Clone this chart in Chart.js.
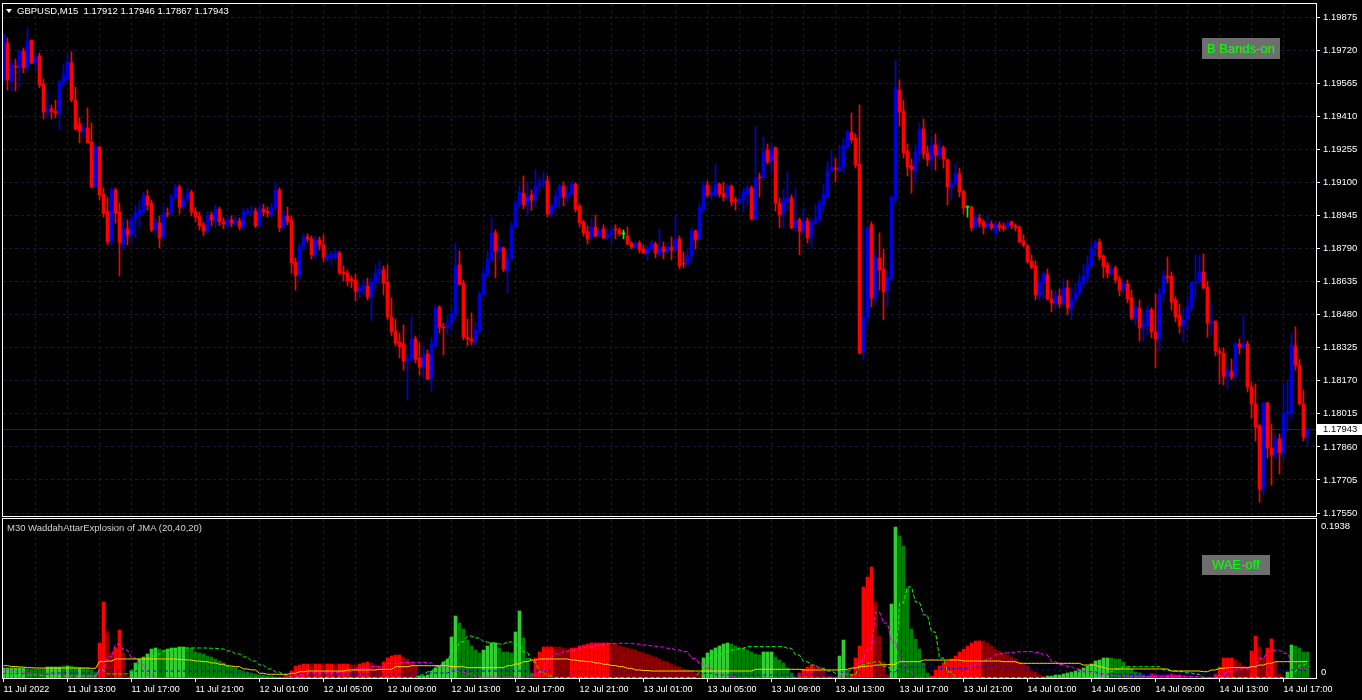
<!DOCTYPE html>
<html>
<head>
<meta charset="utf-8">
<script src="https://cdn.jsdelivr.net/npm/chart.js@4.4.0/dist/chart.umd.min.js"></script>
<style>
  html, body { margin: 0; padding: 0; background: #000; }
  body { width: 1362px; height: 700px; position: relative; overflow: hidden; font-family: 'Liberation Sans', Arial, sans-serif; }
  canvas { position: absolute; left: 0; }
  #priceChart { top: 0; }
  #waeChart { top: 518px; }
  .label { position: absolute; font-size: 9.5px; line-height: 10px; white-space: pre; }
  .tri { position: absolute; left: 6px; top: 9px; width: 0; height: 0; border-left: 3.5px solid transparent; border-right: 3.5px solid transparent; border-top: 4px solid #fff; }
  .btn { position: absolute; background: #6e6e6e; color: #00ff00; font-size: 13px; text-align: center; }
</style>
</head>
<body>
<canvas id="priceChart" width="1362" height="518"></canvas>
<canvas id="waeChart" width="1362" height="182"></canvas>
<div class="tri"></div>
<div class="label" id="title" style="left:17px; top:6px; color:#fff;"></div>
<div class="label" style="left:7px; top:523px; color:#d4d4d4;">M30 WaddahAttarExplosion of JMA (20,40,20)</div>
<div class="btn" style="left:1202px; top:38px; width:78px; height:21px; line-height:21px;">B Bands-on</div>
<div class="btn" style="left:1202px; top:555px; width:68px; height:20px; line-height:20px;">WAE-off</div>

<script>
  // GBPUSD M15, 11 Jul 09:00 -> 14 Jul 18:30
  const symbol = 'GBPUSD';
  const period = 'M15';

  const opens = [
    1.19580,1.19753,1.19575,1.19646,1.19641,1.19715,1.19637,1.19767,1.19660,1.19692,
    1.19561,1.19430,1.19444,1.19434,1.19425,1.19566,1.19580,1.19660,1.19486,1.19373,
    1.19340,1.19355,1.19290,1.19078,1.19266,1.19045,1.18965,1.18821,1.19064,1.18961,
    1.18807,1.18882,1.18854,1.18924,1.18947,1.18961,1.19036,1.19003,1.18877,1.18910,
    1.18840,1.18956,1.18956,1.19031,1.19078,1.18984,1.19022,1.19055,1.18965,1.18942,
    1.18901,1.18872,1.18947,1.18919,1.18975,1.18915,1.18901,1.18924,1.18910,1.18919,
    1.18887,1.18956,1.18961,1.18965,1.18901,1.18975,1.18965,1.18947,1.18980,1.19064,
    1.18887,1.18942,1.18924,1.18727,1.18666,1.18797,1.18844,1.18835,1.18760,1.18830,
    1.18807,1.18741,1.18750,1.18750,1.18769,1.18680,1.18675,1.18647,1.18642,1.18590,
    1.18600,1.18614,1.18562,1.18628,1.18675,1.18689,1.18633,1.18469,1.18403,1.18352,
    1.18342,1.18262,1.18272,1.18366,1.18277,1.18234,1.18295,1.18183,1.18333,1.18516,
    1.18422,1.18418,1.18441,1.18478,1.18713,1.18628,1.18375,1.18366,1.18356,1.18399,
    1.18572,1.18661,1.18736,1.18863,1.18778,1.18793,1.18684,1.18741,1.18891,1.18998,
    1.19050,1.18994,1.19041,1.19017,1.19083,1.19097,1.19106,1.18951,1.18984,1.19031,
    1.19083,1.19027,1.19045,1.19092,1.18989,1.18915,1.18868,1.18844,1.18891,1.18849,
    1.18882,1.18844,1.18854,1.18882,1.18877,1.18858,1.18849,1.18816,1.18797,1.18816,
    1.18788,1.18769,1.18788,1.18811,1.18760,1.18797,1.18774,1.18797,1.18783,1.18835,
    1.18722,1.18717,1.18755,1.18872,1.18835,1.18975,1.19088,1.19041,1.19041,1.19092,
    1.19050,1.19031,1.19083,1.19017,1.19008,1.19017,1.19045,1.19074,1.18928,1.19125,
    1.19120,1.19252,1.19196,1.19262,1.19003,1.18956,1.19008,1.19027,1.18887,1.18924,
    1.18872,1.18919,1.18840,1.18910,1.18924,1.18994,1.19031,1.19153,1.19167,1.19158,
    1.19172,1.19266,1.19336,1.19308,1.19186,1.18305,1.18469,1.18901,1.18558,1.18746,
    1.18694,1.18590,1.18647,1.19022,1.19533,1.19434,1.19247,1.19177,1.19149,1.19238,
    1.19350,1.19238,1.19205,1.19276,1.19224,1.19261,1.19205,1.19074,1.19092,1.19139,
    1.19059,1.18984,1.18984,1.18887,1.18933,1.18915,1.18891,1.18905,1.18863,1.18901,
    1.18896,1.18887,1.18915,1.18896,1.18891,1.18826,1.18802,1.18732,1.18708,1.18572,
    1.18628,1.18666,1.18553,1.18535,1.18567,1.18530,1.18605,1.18507,1.18553,1.18581,
    1.18628,1.18656,1.18708,1.18793,1.18821,1.18755,1.18713,1.18675,1.18699,1.18647,
    1.18600,1.18623,1.18562,1.18464,1.18511,1.18418,1.18432,1.18502,1.18399,1.18366,
    1.18581,1.18661,1.18661,1.18549,1.18478,1.18427,1.18460,1.18511,1.18628,1.18633,
    1.18680,1.18609,1.18441,1.18450,1.18309,1.18300,1.18192,1.18215,1.18192,1.18342,
    1.18328,1.18342,1.18141,1.18061,1.17958,1.17662,1.18066,1.17855,1.17822,1.17897,
    1.17831,1.18019,1.18019,1.18333,1.18244,1.18061,1.17912
  ];
  const highs = [
    1.19800,1.19777,1.19678,1.19678,1.19720,1.19730,1.19824,1.19767,1.19706,1.19706,
    1.19585,1.19524,1.19463,1.19486,1.19580,1.19651,1.19697,1.19711,1.19547,1.19406,
    1.19378,1.19449,1.19378,1.19276,1.19266,1.19074,1.19031,1.19074,1.19074,1.19003,
    1.18933,1.18924,1.18947,1.18994,1.19017,1.19055,1.19064,1.19017,1.18933,1.18942,
    1.18989,1.18980,1.19045,1.19092,1.19088,1.19050,1.19074,1.19064,1.18984,1.18961,
    1.18915,1.18961,1.18961,1.18994,1.18984,1.18933,1.18942,1.18942,1.18942,1.18933,
    1.18980,1.18980,1.18989,1.18980,1.19003,1.18998,1.18984,1.19003,1.19097,1.19074,
    1.18970,1.18984,1.18942,1.18746,1.18816,1.18863,1.18858,1.18849,1.18849,1.18844,
    1.18854,1.18778,1.18778,1.18783,1.18778,1.18708,1.18689,1.18661,1.18671,1.18623,
    1.18642,1.18651,1.18651,1.18713,1.18736,1.18708,1.18713,1.18558,1.18460,1.18394,
    1.18432,1.18295,1.18469,1.18380,1.18347,1.18333,1.18314,1.18371,1.18526,1.18521,
    1.18441,1.18474,1.18512,1.18816,1.18778,1.18642,1.18460,1.18488,1.18446,1.18586,
    1.18703,1.18783,1.18933,1.18877,1.18830,1.18797,1.18783,1.18915,1.19017,1.19083,
    1.19130,1.19102,1.19064,1.19158,1.19125,1.19149,1.19130,1.19003,1.19064,1.19092,
    1.19102,1.19078,1.19102,1.19097,1.18998,1.18924,1.18896,1.18933,1.18947,1.18891,
    1.18901,1.18887,1.18896,1.18901,1.18887,1.18877,1.18891,1.18821,1.18821,1.18826,
    1.18807,1.18802,1.18826,1.18821,1.18882,1.18821,1.18816,1.18844,1.18947,1.18849,
    1.18774,1.18788,1.18887,1.18877,1.19003,1.19106,1.19106,1.19083,1.19186,1.19097,
    1.19102,1.19092,1.19088,1.19031,1.19041,1.19074,1.19083,1.19083,1.19364,1.19144,
    1.19312,1.19280,1.19285,1.19266,1.19027,1.19069,1.19149,1.19041,1.19074,1.18933,
    1.18980,1.18933,1.18928,1.18998,1.19017,1.19088,1.19196,1.19247,1.19214,1.19276,
    1.19308,1.19345,1.19425,1.19327,1.19463,1.18891,1.18891,1.18915,1.18783,1.18863,
    1.18788,1.18689,1.19036,1.19674,1.19580,1.19486,1.19280,1.19210,1.19280,1.19378,
    1.19397,1.19271,1.19312,1.19327,1.19299,1.19271,1.19210,1.19120,1.19186,1.19167,
    1.19064,1.18989,1.18989,1.18961,1.18951,1.18924,1.18942,1.18919,1.18915,1.18915,
    1.18910,1.18919,1.18919,1.18905,1.18896,1.18854,1.18811,1.18760,1.18732,1.18656,
    1.18680,1.18694,1.18595,1.18595,1.18600,1.18647,1.18642,1.18605,1.18628,1.18671,
    1.18717,1.18755,1.18821,1.18830,1.18835,1.18760,1.18727,1.18713,1.18708,1.18661,
    1.18642,1.18642,1.18595,1.18535,1.18549,1.18488,1.18521,1.18512,1.18577,1.18605,
    1.18689,1.18750,1.18680,1.18563,1.18530,1.18507,1.18563,1.18633,1.18760,1.18760,
    1.18764,1.18637,1.18530,1.18450,1.18324,1.18324,1.18253,1.18272,1.18352,1.18366,
    1.18478,1.18356,1.18164,1.18155,1.17967,1.18070,1.18070,1.17967,1.17920,1.17920,
    1.18155,1.18169,1.18394,1.18422,1.18272,1.18127,1.17946
  ];
  const lows = [
    1.19571,1.19533,1.19528,1.19528,1.19547,1.19613,1.19618,1.19655,1.19627,1.19543,
    1.19397,1.19402,1.19397,1.19402,1.19345,1.19547,1.19580,1.19477,1.19345,1.19285,
    1.19312,1.19285,1.19074,1.19078,1.19017,1.18937,1.18807,1.18807,1.18910,1.18661,
    1.18783,1.18807,1.18816,1.18840,1.18887,1.18951,1.18970,1.18868,1.18854,1.18793,
    1.18830,1.18937,1.18942,1.19017,1.18951,1.18970,1.19003,1.18942,1.18915,1.18877,
    1.18849,1.18863,1.18896,1.18887,1.18896,1.18882,1.18882,1.18891,1.18896,1.18877,
    1.18877,1.18942,1.18947,1.18887,1.18891,1.18942,1.18937,1.18933,1.18970,1.18868,
    1.18877,1.18901,1.18675,1.18595,1.18642,1.18783,1.18821,1.18741,1.18736,1.18783,
    1.18727,1.18727,1.18713,1.18736,1.18666,1.18637,1.18614,1.18605,1.18544,1.18553,
    1.18572,1.18549,1.18450,1.18595,1.18628,1.18572,1.18455,1.18380,1.18333,1.18277,
    1.18220,1.18080,1.18258,1.18253,1.18197,1.18183,1.18174,1.18122,1.18324,1.18394,
    1.18291,1.18385,1.18408,1.18455,1.18619,1.18361,1.18333,1.18338,1.18333,1.18389,
    1.18567,1.18656,1.18727,1.18652,1.18736,1.18680,1.18581,1.18736,1.18887,1.18980,
    1.18975,1.18947,1.18970,1.18984,1.19055,1.19074,1.18937,1.18937,1.18965,1.18984,
    1.18989,1.19008,1.19036,1.18961,1.18891,1.18849,1.18811,1.18830,1.18844,1.18840,
    1.18835,1.18830,1.18811,1.18835,1.18849,1.18835,1.18807,1.18788,1.18788,1.18769,
    1.18764,1.18736,1.18778,1.18746,1.18755,1.18741,1.18769,1.18736,1.18774,1.18694,
    1.18699,1.18713,1.18722,1.18788,1.18830,1.18956,1.19031,1.19017,1.19031,1.19031,
    1.19012,1.19017,1.18989,1.18970,1.18994,1.18961,1.18994,1.18924,1.18924,1.19031,
    1.19111,1.19186,1.19139,1.18965,1.18887,1.18882,1.18970,1.18882,1.18868,1.18760,
    1.18844,1.18816,1.18797,1.18901,1.18915,1.18961,1.19027,1.19149,1.19102,1.19149,
    1.19144,1.19257,1.19285,1.19167,1.18295,1.18267,1.18427,1.18516,1.18526,1.18595,
    1.18455,1.18516,1.18642,1.18994,1.19364,1.19214,1.19130,1.19050,1.19097,1.19196,
    1.19210,1.19177,1.19158,1.19158,1.19205,1.19167,1.18994,1.19017,1.19088,1.19031,
    1.18951,1.18937,1.18872,1.18882,1.18891,1.18858,1.18882,1.18877,1.18840,1.18872,
    1.18872,1.18882,1.18882,1.18872,1.18816,1.18797,1.18722,1.18694,1.18549,1.18544,
    1.18558,1.18549,1.18493,1.18502,1.18511,1.18521,1.18479,1.18455,1.18535,1.18567,
    1.18605,1.18628,1.18699,1.18755,1.18736,1.18652,1.18652,1.18666,1.18628,1.18567,
    1.18586,1.18535,1.18455,1.18432,1.18356,1.18352,1.18385,1.18371,1.18230,1.18314,
    1.18544,1.18628,1.18502,1.18446,1.18394,1.18352,1.18413,1.18497,1.18549,1.18623,
    1.18600,1.18375,1.18385,1.18286,1.18155,1.18150,1.18131,1.18174,1.18178,1.18295,
    1.18319,1.18117,1.17995,1.17887,1.17601,1.17634,1.17808,1.17681,1.17799,1.17733,
    1.17799,1.17930,1.17991,1.18220,1.18056,1.17887,1.17867
  ];
  const closes = [
    1.19791,1.19580,1.19651,1.19641,1.19715,1.19637,1.19762,1.19660,1.19687,1.19557,
    1.19430,1.19444,1.19430,1.19425,1.19571,1.19604,1.19665,1.19486,1.19350,1.19340,
    1.19350,1.19285,1.19078,1.19266,1.19041,1.18956,1.18821,1.19064,1.18956,1.18816,
    1.18887,1.18854,1.18924,1.18956,1.18970,1.19036,1.18994,1.18877,1.18910,1.18840,
    1.18956,1.18951,1.19031,1.19078,1.18984,1.19022,1.19050,1.18961,1.18937,1.18896,
    1.18872,1.18942,1.18924,1.18975,1.18915,1.18905,1.18924,1.18910,1.18919,1.18891,
    1.18961,1.18965,1.18965,1.18896,1.18975,1.18961,1.18956,1.18984,1.19064,1.18887,
    1.18942,1.18915,1.18722,1.18666,1.18797,1.18844,1.18835,1.18760,1.18830,1.18807,
    1.18750,1.18755,1.18760,1.18769,1.18675,1.18671,1.18637,1.18637,1.18590,1.18605,
    1.18614,1.18562,1.18637,1.18675,1.18689,1.18628,1.18469,1.18399,1.18347,1.18328,
    1.18262,1.18272,1.18366,1.18272,1.18234,1.18291,1.18178,1.18342,1.18512,1.18422,
    1.18418,1.18441,1.18483,1.18708,1.18623,1.18375,1.18366,1.18356,1.18408,1.18581,
    1.18671,1.18741,1.18863,1.18778,1.18797,1.18694,1.18741,1.18896,1.19003,1.19055,
    1.18994,1.19036,1.19017,1.19083,1.19097,1.19106,1.18951,1.18989,1.19036,1.19083,
    1.19031,1.19050,1.19092,1.18975,1.18910,1.18863,1.18835,1.18891,1.18849,1.18877,
    1.18840,1.18854,1.18872,1.18877,1.18858,1.18858,1.18811,1.18797,1.18811,1.18783,
    1.18769,1.18793,1.18816,1.18769,1.18797,1.18774,1.18797,1.18783,1.18830,1.18708,
    1.18717,1.18755,1.18872,1.18830,1.18980,1.19083,1.19041,1.19050,1.19092,1.19045,
    1.19031,1.19083,1.19008,1.19012,1.19022,1.19055,1.19074,1.18928,1.19120,1.19120,
    1.19243,1.19196,1.19257,1.19003,1.18947,1.19017,1.19027,1.18887,1.18924,1.18872,
    1.18919,1.18840,1.18915,1.18928,1.19003,1.19045,1.19153,1.19172,1.19163,1.19172,
    1.19271,1.19336,1.19299,1.19181,1.18300,1.18469,1.18887,1.18558,1.18746,1.18689,
    1.18586,1.18652,1.19031,1.19538,1.19430,1.19238,1.19172,1.19163,1.19243,1.19350,
    1.19233,1.19205,1.19276,1.19229,1.19261,1.19210,1.19078,1.19092,1.19139,1.19055,
    1.18980,1.18984,1.18887,1.18933,1.18910,1.18891,1.18905,1.18887,1.18905,1.18887,
    1.18882,1.18910,1.18896,1.18887,1.18821,1.18807,1.18727,1.18703,1.18572,1.18633,
    1.18671,1.18553,1.18535,1.18567,1.18530,1.18605,1.18511,1.18553,1.18581,1.18633,
    1.18661,1.18713,1.18793,1.18816,1.18750,1.18703,1.18675,1.18694,1.18642,1.18595,
    1.18623,1.18553,1.18464,1.18511,1.18418,1.18436,1.18502,1.18399,1.18366,1.18581,
    1.18661,1.18652,1.18539,1.18469,1.18427,1.18455,1.18516,1.18628,1.18633,1.18680,
    1.18605,1.18441,1.18446,1.18309,1.18300,1.18192,1.18220,1.18188,1.18342,1.18328,
    1.18342,1.18141,1.18061,1.17953,1.17662,1.18066,1.17855,1.17822,1.17892,1.17831,
    1.18019,1.18023,1.18338,1.18244,1.18061,1.17906,1.17943
  ];

  const priceTicks = [1.19875, 1.19720, 1.19565, 1.19410, 1.19255, 1.19100, 1.18945, 1.18790,
    1.18635, 1.18480, 1.18325, 1.18170, 1.18015, 1.17860, 1.17705, 1.17550];
  const priceRange = [1.17536, 1.19936];

  const timeLabels = ['11 Jul 2022', '11 Jul 13:00', '11 Jul 17:00', '11 Jul 21:00', '12 Jul 01:00',
    '12 Jul 05:00', '12 Jul 09:00', '12 Jul 13:00', '12 Jul 17:00', '12 Jul 21:00', '13 Jul 01:00',
    '13 Jul 05:00', '13 Jul 09:00', '13 Jul 13:00', '13 Jul 17:00', '13 Jul 21:00', '14 Jul 01:00',
    '14 Jul 05:00', '14 Jul 09:00', '14 Jul 13:00', '14 Jul 17:00'];

  // WAE histogram, one value per M15 bar; kind: G up-rising, g up-falling, R down-rising, r down-falling
  const waeHist = [
    0.0122,0.0122,0.0122,0.0122,0.0122,0.0122,0.0110,0.0110,0.0110,0.0110,
    0.0110,0.0134,0.0134,0.0134,0.0134,0.0146,0.0146,0.0146,0.0134,0.0122,
    0.0122,0.0122,0.0098,0.0073,0.0427,0.0926,0.0561,0.0305,0.0366,0.0585,
    0.0305,0.0024,0.0085,0.0183,0.0232,0.0256,0.0293,0.0353,0.0366,0.0353,
    0.0341,0.0353,0.0366,0.0366,0.0378,0.0378,0.0366,0.0366,0.0317,0.0305,
    0.0293,0.0268,0.0256,0.0232,0.0207,0.0183,0.0158,0.0134,0.0122,0.0098,
    0.0085,0.0073,0.0061,0.0049,0.0037,0.0037,0.0024,0.0024,0.0012,0.0012,
    0.0012,0.0024,0.0085,0.0146,0.0158,0.0171,0.0171,0.0171,0.0171,0.0171,
    0.0171,0.0171,0.0171,0.0171,0.0171,0.0171,0.0171,0.0158,0.0158,0.0171,
    0.0183,0.0195,0.0183,0.0158,0.0146,0.0195,0.0244,0.0268,0.0280,0.0280,
    0.0256,0.0232,0.0195,0.0158,0.0024,0.0024,0.0037,0.0085,0.0122,0.0146,
    0.0195,0.0232,0.0500,0.0756,0.0670,0.0597,0.0463,0.0390,0.0341,0.0305,
    0.0341,0.0390,0.0427,0.0427,0.0366,0.0317,0.0317,0.0305,0.0561,0.0817,
    0.0488,0.0244,0.0061,0.0244,0.0317,0.0378,0.0378,0.0378,0.0378,0.0378,
    0.0366,0.0353,0.0366,0.0366,0.0390,0.0402,0.0414,0.0427,0.0427,0.0427,
    0.0427,0.0427,0.0427,0.0414,0.0390,0.0378,0.0366,0.0353,0.0341,0.0317,
    0.0305,0.0293,0.0268,0.0256,0.0232,0.0207,0.0195,0.0171,0.0146,0.0134,
    0.0110,0.0098,0.0085,0.0061,0.0049,0.0244,0.0305,0.0341,0.0366,0.0390,
    0.0414,0.0427,0.0414,0.0390,0.0366,0.0366,0.0341,0.0317,0.0293,0.0280,
    0.0317,0.0317,0.0317,0.0256,0.0219,0.0183,0.0122,0.0061,0.0012,0.0061,
    0.0110,0.0134,0.0158,0.0146,0.0134,0.0122,0.0024,0.0024,0.0000,0.0268,
    0.0463,0.0098,0.0049,0.0244,0.0390,0.1109,0.1231,0.1353,0.0926,0.0512,
    0.0195,0.0037,0.0902,0.1841,0.1731,0.1609,0.1097,0.0597,0.0475,0.0353,
    0.0183,0.0061,0.0024,0.0098,0.0146,0.0183,0.0207,0.0232,0.0268,0.0317,
    0.0353,0.0390,0.0427,0.0451,0.0451,0.0451,0.0427,0.0390,0.0353,0.0329,
    0.0305,0.0280,0.0256,0.0232,0.0195,0.0171,0.0146,0.0085,0.0073,0.0037,
    0.0024,0.0024,0.0024,0.0037,0.0037,0.0049,0.0061,0.0073,0.0085,0.0098,
    0.0122,0.0146,0.0171,0.0207,0.0219,0.0244,0.0244,0.0244,0.0232,0.0232,
    0.0195,0.0134,0.0110,0.0073,0.0061,0.0037,0.0024,0.0049,0.0049,0.0037,
    0.0037,0.0037,0.0049,0.0037,0.0037,0.0037,0.0024,0.0012,0.0012,0.0012,
    0.0012,0.0012,0.0012,0.0049,0.0134,0.0244,0.0244,0.0244,0.0219,0.0183,
    0.0146,0.0134,0.0329,0.0512,0.0378,0.0244,0.0366,0.0475,0.0195,0.0049,
    0.0012,0.0073,0.0402,0.0390,0.0366,0.0317,0.0317
  ];
  const waeKind =
    'GGGGGGgggg' + 'gGGGGgGggG' + 'ggggRRrrRR' + 'rrGGGGGGGg' + 'gGGGGGgggg' +
    'gggggggggg' + 'gggggggggg' + 'RRRRRRRrRR' + 'rRRrRRRrrR' + 'RRrrrRRRRR' +
    'rrrrGGGGGG' + 'GGGGgggggg' + 'GGGGggggGG' + 'gggRRRRRrr' + 'rrRRRRRRRR' +
    'RRrrrrrrrr' + 'rrrrrrrrrr' + 'rrrrrGGGGG' + 'GGgggggggg' + 'GGGggggggR' +
    'RRRrrrrrgG' + 'GgRRRRRRrr' + 'rrGGgggggg' + 'ggRRRRRRRR' + 'RRRRRrrrrr' +
    'rrrrrrrrrr' + 'rGGGGGGGGG' + 'GGGGGGGggg' + 'gggggggRRr' + 'rRRRRrrrrr' +
    'rrrRRRRRrr' + 'rrRRrrRRrr' + 'rGGgggg';

  // WAE lines, one value per M30 bar (each spans two M15 bars)
  const explosionLine = [
    0.0150,0.0140,0.0134,0.0126,0.0122,0.0122,0.0122,0.0122,0.0122,0.0122,0.0122,0.0118,
    0.0199,0.0207,0.0232,0.0232,0.0232,0.0232,0.0232,0.0232,0.0232,0.0232,
    0.0225,0.0219,0.0207,0.0199,0.0183,0.0167,0.0146,0.0138,0.0110,0.0098,0.0057,
    0.0045,0.0045,0.0045,0.0057,0.0077,0.0085,0.0085,0.0085,0.0085,0.0085,
    0.0098,0.0098,0.0098,0.0098,0.0106,0.0106,0.0138,0.0138,0.0150,0.0150,0.0150,0.0150,0.0150,
    0.0138,0.0138,0.0126,0.0126,0.0126,0.0126,0.0126,0.0150,0.0171,0.0199,0.0219,
    0.0232,0.0232,0.0232,0.0232,0.0219,0.0207,0.0199,0.0183,0.0167,0.0152,0.0138,0.0118,0.0098,0.0091,
    0.0085,0.0085,0.0085,0.0085,0.0085,0.0085,0.0085,0.0085,0.0085,0.0085,0.0085,0.0085,0.0085,
    0.0106,0.0106,0.0106,0.0106,0.0106,0.0106,0.0098,0.0098,0.0098,0.0098,0.0098,
    0.0106,0.0122,0.0138,0.0146,0.0158,0.0162,0.0167,0.0199,0.0199,0.0199,
    0.0219,0.0219,0.0219,0.0219,0.0219,0.0207,0.0207,0.0207,0.0207,0.0207,0.0199,0.0199,
    0.0179,0.0179,0.0179,0.0179,0.0179,0.0179,0.0179,0.0179,0.0158,0.0158,0.0134,
    0.0110,0.0110,0.0110,0.0110,0.0110,0.0110,0.0110,0.0110,0.0085,0.0085,0.0085,0.0085,
    0.0077,0.0098,0.0118,0.0126,0.0126,0.0126,0.0138,0.0158,0.0179,
    0.0199,0.0199,0.0199,0.0199,0.0199
  ];
  const bearLine = [
    0.0098,0.0085,0.0073,0.0061,0.0049,0.0049,0.0049,0.0049,0.0012,0.0012,0.0012,0.0012,
    0.0085,0.0256,0.0411,0.0341,0.0244,0.0158,0.0037,
    0.0006,0.0006,0.0006,0.0006,0.0006,0.0006,0.0006,0.0006,0.0006,0.0006,0.0006,0.0006,
    0.0006,0.0006,0.0006,0.0006,0.0006,0.0006,
    0.0045,0.0061,0.0061,0.0061,0.0061,0.0077,0.0077,0.0110,0.0110,0.0138,0.0138,0.0179,0.0179,
    0.0191,0.0191,0.0191,0.0183,0.0146,0.0146,0.0098,0.0073,0.0049,
    0.0012,0.0012,0.0012,0.0012,0.0012,0.0012,0.0012,
    0.0037,0.0077,0.0244,0.0293,0.0321,0.0341,0.0366,0.0382,0.0402,0.0414,0.0421,0.0423,0.0421,
    0.0414,0.0402,0.0390,0.0378,0.0362,0.0341,0.0321,0.0240,0.0171,0.0118,0.0057,0.0030,0.0016,
    0.0006,0.0006,0.0006,0.0006,0.0006,0.0006,0.0006,0.0006,0.0006,0.0006,0.0006,0.0006,0.0006,
    0.0045,0.0118,0.0219,0.0362,0.0804,0.0670,0.0439,0.0219,0.0077,
    0.0006,0.0006,0.0006,0.0006,0.0006,0.0006,
    0.0077,0.0158,0.0201,0.0240,0.0289,0.0305,0.0313,0.0321,0.0321,
    0.0313,0.0280,0.0199,0.0165,0.0138,0.0110,0.0085,0.0057,0.0045,0.0037,0.0024,0.0024,
    0.0016,0.0016,0.0016,0.0016,0.0016,0.0016,0.0016,0.0016,0.0016,0.0006,0.0006,
    0.0037,0.0077,0.0098,0.0116,0.0138,0.0240,0.0321,0.0341,0.0301,0.0199,0.0118,0.0098
  ];
  const bullLine = [
    0.0037,0.0037,0.0037,0.0037,0.0037,0.0024,0.0024,0.0024,0.0024,0.0024,0.0024,0.0024,
    0.0098,0.0049,0.0049,0.0049,0.0098,0.0183,0.0244,0.0293,0.0329,0.0353,
    0.0366,0.0366,0.0366,0.0366,0.0362,0.0353,0.0329,0.0293,0.0256,0.0207,0.0158,0.0110,0.0073,0.0037,
    0.0006,0.0006,0.0006,0.0006,0.0006,0.0006,0.0006,0.0006,0.0006,0.0006,0.0006,0.0006,0.0006,0.0006,0.0006,0.0006,
    0.0037,0.0077,0.0138,0.0199,0.0329,0.0439,0.0512,0.0488,0.0439,0.0427,0.0414,0.0439,0.0402,0.0317,0.0195,0.0073,0.0024,
    0.0006,0.0006,0.0006,0.0006,0.0006,0.0006,0.0006,0.0006,0.0006,0.0006,0.0006,0.0006,0.0006,0.0006,0.0006,0.0006,0.0006,0.0006,
    0.0077,0.0240,0.0280,0.0321,0.0341,0.0362,
    0.0382,0.0382,0.0382,0.0382,0.0382,
    0.0362,0.0280,0.0199,0.0158,0.0118,0.0085,0.0057,0.0043,0.0037,0.0158,0.0183,0.0199,0.0138,0.0098,
    0.0914,0.1109,0.0926,0.0768,0.0561,0.0244,0.0073,
    0.0006,0.0006,0.0006,0.0006,0.0006,0.0006,0.0006,0.0006,0.0006,0.0006,0.0006,0.0006,0.0006,0.0006,0.0006,0.0006,0.0006,0.0006,0.0006,
    0.0077,0.0110,0.0138,0.0138,0.0138,0.0138,0.0138,0.0098,0.0085,0.0077,0.0061,0.0045,
    0.0006,0.0006,0.0006,0.0006,0.0006,0.0006,0.0006,0.0006,0.0006,0.0006,0.0006,
    0.0077,0.0158,0.0183
  ];
  const deadZone = [
    0.0049,0.0049,0.0049,0.0049,0.0049,0.0049,0.0061,0.0061,0.0061,0.0061,0.0061,0.0061,
    0.0085,0.0085,0.0085,0.0085,0.0085,0.0085,0.0085,0.0085,0.0085,0.0085,0.0085,0.0085,0.0085,0.0085,0.0085,0.0085,
    0.0073,0.0073,0.0073,0.0061,0.0061,0.0061,0.0061,0.0061,
    0.0049,0.0049,0.0049,0.0049,0.0049,0.0045,0.0045,0.0045,0.0045,0.0045,
    0.0049,0.0049,0.0049,0.0049,0.0049,0.0061,0.0061,0.0061,0.0061,0.0061,
    0.0085,0.0085,0.0085,0.0085,0.0085,0.0085,0.0085,0.0085,0.0085,0.0085,0.0085,0.0085,0.0085,
    0.0077,0.0077,0.0077,0.0077,0.0077,0.0077,0.0077,0.0077,0.0077,0.0077,0.0077,0.0077,
    0.0057,0.0057,0.0057,0.0057,0.0057,0.0057,0.0057,0.0057,
    0.0037,0.0037,0.0037,0.0037,0.0037,0.0037,0.0037,0.0037,0.0037,
    0.0045,0.0045,0.0045,0.0045,0.0045,0.0045,0.0045,
    0.0077,0.0077,0.0077,0.0077,0.0077,0.0077,0.0077,
    0.0134,0.0134,0.0134,0.0134,0.0134,0.0118,0.0118,0.0118,0.0118,
    0.0134,0.0134,0.0134,0.0134,0.0110,0.0110,0.0110,0.0110,0.0098,0.0098,0.0098,0.0098,
    0.0077,0.0077,0.0077,0.0077,0.0049,0.0049,0.0049,0.0049,
    0.0040,0.0040,0.0040,0.0040,0.0040,
    0.0049,0.0049,0.0049,0.0049,0.0049,0.0049,0.0049,0.0049,
    0.0077,0.0077,0.0077,0.0077,0.0098,0.0098,0.0098,0.0098,0.0098,0.0098
  ];
  const waeRange = [0, 0.1938];

  // colours
  const UP = '#0000dc';
  const DOWN = '#ff0000';
  const DOJI = '#00ff00';
  const GRID = '#151550';
  const histColors = { G: '#32cd32', g: '#008000', R: '#ff0000', r: '#8b0000' };

  Chart.defaults.font.family = "'Liberation Sans', Arial, sans-serif";
  Chart.defaults.font.size = 9;
  Chart.defaults.color = '#ffffff';

  const idx = opens.map((_, i) => i);
  const xMin = -0.125;
  const xMax = 328.125;
  const gridSteps = [];
  for (let v = 0; v <= 320; v += 8) gridSteps.push(v);

  const candleColor = i => closes[i] > opens[i] ? UP : (closes[i] < opens[i] ? DOWN : DOJI);
  const perBar = arr => idx.map(i => ({ x: i, y: arr[Math.floor(i / 2)] }));

  const fmt = v => v.toFixed(5);
  document.getElementById('title').textContent =
    `${symbol},${period}  ${fmt(opens[opens.length - 1])} ${fmt(highs[highs.length - 1])} ` +
    `${fmt(lows[lows.length - 1])} ${fmt(closes[closes.length - 1])}`;

  // white frame around each plot area
  const framePlugin = {
    id: 'frame',
    afterDraw(chart) {
      const { left, top, right, bottom } = chart.chartArea;
      const ctx = chart.ctx;
      ctx.save();
      ctx.strokeStyle = '#ffffff';
      ctx.lineWidth = 1;
      ctx.strokeRect(left - 0.5, top - 0.5, right - left + 1, bottom - top + 1);
      ctx.restore();
    }
  };

  // last price line and its label on the price axis
  const lastPricePlugin = {
    id: 'lastPrice',
    beforeDatasetsDraw(chart) {
      const last = closes[closes.length - 1];
      const y = Math.round(chart.scales.y.getPixelForValue(last)) + 0.5;
      const { left, right } = chart.chartArea;
      const ctx = chart.ctx;
      ctx.save();
      ctx.strokeStyle = '#1a1a78';
      ctx.beginPath();
      ctx.moveTo(left, y);
      ctx.lineTo(right, y);
      ctx.stroke();
      ctx.restore();
    },
    afterDraw(chart) {
      const last = closes[closes.length - 1];
      const y = Math.round(chart.scales.y.getPixelForValue(last));
      const right = chart.chartArea.right;
      const ctx = chart.ctx;
      ctx.save();
      ctx.fillStyle = '#ffffff';
      ctx.fillRect(right + 1, y - 5, chart.width - right - 1, 11);
      ctx.fillStyle = '#000000';
      ctx.font = "9.5px 'Liberation Sans', Arial, sans-serif";
      ctx.textBaseline = 'middle';
      ctx.fillText(fmt(last), right + 7, y + 0.5);
      ctx.restore();
    }
  };

  // min / max labels of the indicator window
  const waeAxisPlugin = {
    id: 'waeAxis',
    afterDraw(chart) {
      const { right, top, bottom } = chart.chartArea;
      const ctx = chart.ctx;
      ctx.save();
      ctx.fillStyle = '#ffffff';
      ctx.font = "9.5px 'Liberation Sans', Arial, sans-serif";
      ctx.textBaseline = 'middle';
      ctx.fillText(String(waeRange[1]), right + 5, top + 7);
      ctx.fillText(String(waeRange[0]), right + 5, bottom - 6);
      ctx.restore();
    }
  };

  new Chart(document.getElementById('priceChart'), {
    type: 'bar',
    data: {
      datasets: [
        {
          data: idx.map(i => ({ x: i, y: [opens[i], closes[i]] })),
          backgroundColor: ctx => candleColor(ctx.dataIndex),
          barThickness: 3,
          minBarLength: 1,
          borderWidth: 0,
          grouped: false,
          order: 0
        },
        {
          data: idx.map(i => ({ x: i, y: [lows[i], highs[i]] })),
          backgroundColor: ctx => candleColor(ctx.dataIndex),
          barThickness: 1,
          borderWidth: 0,
          grouped: false,
          order: 1
        }
      ]
    },
    options: {
      responsive: false,
      animation: false,
      devicePixelRatio: 1,
      layout: { padding: { top: 4, left: 3, bottom: 2, right: 0 } },
      plugins: { legend: { display: false }, tooltip: { enabled: false } },
      scales: {
        x: {
          type: 'linear',
          offset: false,
          min: xMin,
          max: xMax,
          afterBuildTicks: s => { s.ticks = gridSteps.map(v => ({ value: v })); },
          ticks: { display: false },
          grid: { offset: false, color: ctx => ctx.tick && ctx.tick.value === 0 ? 'transparent' : GRID, drawTicks: false },
          border: { display: false, dash: [3, 3] },
          afterFit: s => { s.height = 0; s.paddingLeft = 0; s.paddingRight = 0; }
        },
        y: {
          position: 'right',
          min: priceRange[0],
          max: priceRange[1],
          afterBuildTicks: s => { s.ticks = priceTicks.map(v => ({ value: v })); },
          ticks: { color: '#ffffff', padding: 3, font: { size: 9.5 }, callback: v => v.toFixed(5) },
          grid: { color: GRID, tickColor: '#ffffff', tickLength: 4, tickBorderDash: [] },
          border: { display: false, dash: [3, 3] },
          afterFit: s => { s.width = 46; s.paddingTop = 0; s.paddingBottom = 0; }
        }
      }
    },
    plugins: [lastPricePlugin, framePlugin]
  });

  const lineSet = (arr, color, dash) => ({
    type: 'line',
    data: perBar(arr),
    borderColor: color,
    borderWidth: 1,
    borderDash: dash,
    pointRadius: 0,
    tension: 0,
    fill: false,
    order: 0
  });

  new Chart(document.getElementById('waeChart'), {
    type: 'bar',
    data: {
      datasets: [
        lineSet(explosionLine, '#ffd700', []),
        lineSet(bearLine, '#ff00ff', [4, 2]),
        lineSet(bullLine, '#00ff00', [4, 2]),
        lineSet(deadZone, '#0000ff', [3, 3]),
        {
          data: idx.map(i => ({ x: i, y: waeHist[i] })),
          backgroundColor: ctx => histColors[waeKind[ctx.dataIndex]],
          barThickness: 3,
          borderWidth: 0,
          order: 5
        }
      ]
    },
    options: {
      responsive: false,
      animation: false,
      devicePixelRatio: 1,
      layout: { padding: { top: 1, left: 3, bottom: 0, right: 0 } },
      plugins: { legend: { display: false }, tooltip: { enabled: false } },
      scales: {
        x: {
          type: 'linear',
          offset: false,
          min: xMin,
          max: xMax,
          afterBuildTicks: s => { s.ticks = gridSteps.map(v => ({ value: v })); },
          ticks: {
            autoSkip: false,
            maxRotation: 0,
            align: 'start',
            padding: 2,
            color: '#ffffff',
            callback: v => (v % 16 === 0 ? timeLabels[v / 16] : '')
          },
          grid: {
            offset: false,
            color: ctx => ctx.tick && ctx.tick.value === 0 ? 'transparent' : GRID,
            tickColor: ctx => ctx.tick && ctx.tick.value % 16 === 0 ? '#ffffff' : 'transparent',
            tickLength: 4,
            tickBorderDash: []
          },
          border: { display: false, dash: [3, 3] },
          afterFit: s => { s.height = 22; s.paddingLeft = 0; s.paddingRight = 0; }
        },
        y: {
          position: 'right',
          min: waeRange[0],
          max: waeRange[1],
          ticks: { display: false },
          grid: { display: false },
          border: { display: false },
          afterFit: s => { s.width = 46; s.paddingTop = 0; s.paddingBottom = 0; }
        }
      }
    },
    plugins: [waeAxisPlugin, framePlugin]
  });
</script>
</body>
</html>
